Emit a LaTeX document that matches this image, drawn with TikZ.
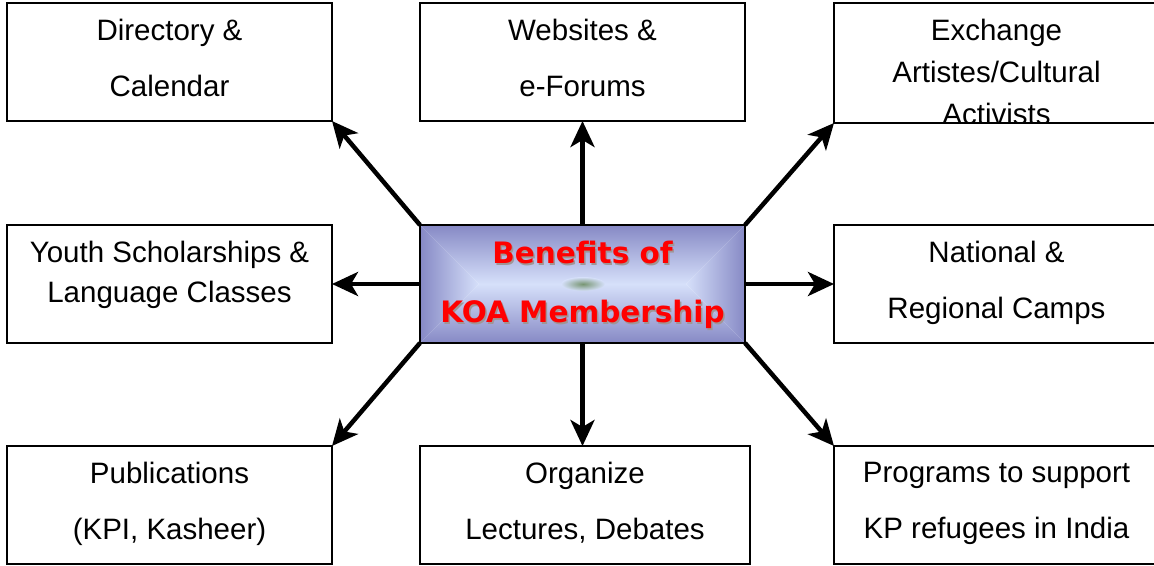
\documentclass[tikz,border=0pt]{standalone}
\usepackage{fontspec}
\setmainfont{Liberation Sans}
\newfontfamily\corefont{DejaVu Sans}
\usetikzlibrary{positioning,calc,arrows.meta}
\definecolor{coredark}{RGB}{134,137,197}
\definecolor{corelite}{RGB}{214,224,250}
\definecolor{corered}{RGB}{255,0,0}
\definecolor{coreshade}{RGB}{160,150,150}
\definecolor{coreblur}{RGB}{120,150,115}

\begin{document}
\begin{tikzpicture}[x=1pt, y=-1pt,
    box/.style={draw, line width=1.6pt, minimum width=325pt, minimum height=118pt, inner sep=0pt, outer sep=0pt},
    boxtext/.style={align=center, inner sep=0pt, font=\fontsize{29.5}{56}\selectfont},
    coretext/.style={align=center, inner sep=0pt, font=\corefont\bfseries\fontsize{29.5}{59}\selectfont},
    link/.style={line width=4.5pt, -{Stealth[length=26pt,width=24pt,inset=7pt]}}]

    \useasboundingbox (0,0) rectangle (1154,565);

    % outer boxes
    \node [box] (dir) at (169.5,62) {};
    \node [box] (web) at (582.5,62) {};
    \node [box, minimum height=120pt] (exch) at (996.5,63) {};
    \node [box] (youth) at (169.5,284) {};
    \node [box] (natl) at (996.5,284) {};
    \node [box] (pub) at (169.5,505) {};
    \node [box, minimum width=330pt] (org) at (585,505) {};
    \node [box] (prog) at (996.5,505) {};

    \node [boxtext, below=16pt of dir.north] (dirtext) {Directory \&\\Calendar};
    \node [boxtext, below=16pt of web.north] (webtext) {Websites \&\\e-Forums};
    \begin{scope}
        \clip (exch.north west) rectangle ($(exch.south east)+(0,-1.5)$);
        \node [boxtext, font=\fontsize{29.5}{42}\selectfont, below=16pt of exch.north] (exchtext) {Exchange\\Artistes/Cultural\\Activists};
    \end{scope}
    \node [boxtext, font=\fontsize{29.5}{40}\selectfont, below=16pt of youth.north] (youthtext) {Youth Scholarships \&\\Language Classes};
    \node [boxtext, below=16pt of natl.north] (natltext) {National \&\\Regional Camps};
    \node [boxtext, below=16pt of pub.north] (pubtext) {Publications\\(KPI, Kasheer)};
    \node [boxtext, below=16pt of org.north] (orgtext) {Organize\\Lectures, Debates};
    \node [boxtext, below=16pt of prog.north] (progtext) {Programs to support\\KP refugees in India};

    % centre box and arrows
    \node [minimum width=325pt, minimum height=118pt, inner sep=0pt, outer sep=0pt] (core) at (582.5,284) {};
    \foreach \from/\to in {north west/dir.south east, north/web.south, north east/exch.south west,
                           west/youth.east, east/natl.west,
                           south west/pub.north east, south east/prog.north west}
        \draw [link] (core.\from) -- (\to);
    \draw [link] (core.south) -- (core.south |- org.north);

    \coordinate (ml) at ($(core.west)+(59,0)$);
    \coordinate (mr) at ($(core.east)+(-59,0)$);
    \shade [top color=coredark, bottom color=corelite] (core.north west) -- (core.north east) -- (mr) -- (ml) -- cycle;
    \shade [top color=corelite, bottom color=coredark] (core.south west) -- (core.south east) -- (mr) -- (ml) -- cycle;
    \shade [left color=coredark, right color=corelite] (core.north west) -- (ml) -- (core.south west) -- cycle;
    \shade [left color=corelite, right color=coredark] (core.north east) -- (mr) -- (core.south east) -- cycle;
    \shade [inner color=coreblur, outer color=corelite] (583,284) ellipse (22 and 7);
    \draw [line width=1.6pt] (core.north west) rectangle (core.south east);

    \node [coretext, text=coreshade, below=16pt of core.north, xshift=1.5pt, yshift=-1.5pt] (coreshadow) {Benefits of\\KOA Membership};
    \node [coretext, text=corered, below=16pt of core.north] (coretitle) {Benefits of\\KOA Membership};
\end{tikzpicture}
\end{document}
